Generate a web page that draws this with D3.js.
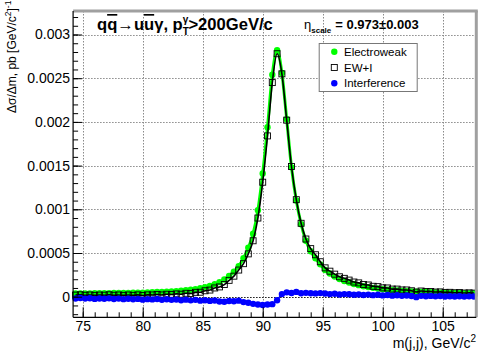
<!DOCTYPE html>
<html>
  <head>
    <meta charset="UTF-8">
    <title>qq -> uu gamma, Z peak</title>
    <style>
      body { margin: 0; background: #fff; }
      svg { display: block; font-family: "Liberation Sans", Arial, Helvetica, sans-serif; }
    </style>
  </head>
  <body>

    <svg></svg>

    <script src="https://d3js.org/d3.v7.min.js"></script>
    <script>

/* DATA */

// bin centres, m(j,j) in GeV/c^2
var mass = [74.4, 74.8, 75.2, 75.6, 76.0, 76.4, 76.8, 77.2, 77.6, 78.0,
            78.4, 78.8, 79.2, 79.6, 80.0, 80.4, 80.8, 81.2, 81.6, 82.0,
            82.4, 82.8, 83.2, 83.6, 84.0, 84.4, 84.8, 85.2, 85.6, 86.0,
            86.4, 86.8, 87.2, 87.6, 88.0, 88.4, 88.8, 89.2, 89.6, 90.0,
            90.4, 90.8, 91.2, 91.6, 92.0, 92.4, 92.8, 93.2, 93.6, 94.0,
            94.4, 94.8, 95.2, 95.6, 96.0, 96.4, 96.8, 97.2, 97.6, 98.0,
            98.4, 98.8, 99.2, 99.6, 100.0, 100.4, 100.8, 101.2, 101.6, 102.0,
            102.4, 102.8, 103.2, 103.6, 104.0, 104.4, 104.8, 105.2, 105.6, 106.0,
            106.4, 106.8, 107.2, 107.6];

// Electroweak (green dots)
var electroweak = [0.000036, 0.000037, 0.000037, 0.000038, 0.000039, 0.000039, 0.000040, 0.000041, 0.000042, 0.000042,
                   0.000043, 0.000044, 0.000045, 0.000046, 0.000047, 0.000049, 0.000051, 0.000053, 0.000055, 0.000058,
                   0.000061, 0.000064, 0.000068, 0.000073, 0.000079, 0.000086, 0.000096, 0.000108, 0.000124, 0.000143,
                   0.000167, 0.000197, 0.000237, 0.000287, 0.000350, 0.000440, 0.000560, 0.000720, 0.000990, 0.001410,
                   0.001940, 0.002540, 0.002820, 0.002560, 0.002030, 0.001480, 0.001100, 0.000830, 0.000640, 0.000520,
                   0.000440, 0.000370, 0.000305, 0.000265, 0.000230, 0.000203, 0.000180, 0.000162, 0.000146, 0.000132,
                   0.000120, 0.000110, 0.000101, 0.000093, 0.000086, 0.000080, 0.000075, 0.000071, 0.000067, 0.000063,
                   0.000060, 0.000058, 0.000055, 0.000053, 0.000051, 0.000049, 0.000047, 0.000046, 0.000044, 0.000043,
                   0.000042, 0.000041, 0.000040, 0.000039];

// EW+I (open squares, black curve)
var ewPlusI = [0.000018, 0.000022, 0.000016, 0.000020, 0.000015, 0.000019, 0.000017, 0.000022, 0.000016, 0.000020,
               0.000015, 0.000020, 0.000015, 0.000021, 0.000013, 0.000021, 0.000020, 0.000026, 0.000020, 0.000028,
               0.000025, 0.000032, 0.000028, 0.000039, 0.000037, 0.000050, 0.000051, 0.000068, 0.000076, 0.000100,
               0.000112, 0.000139, 0.000187, 0.000235, 0.000305, 0.000378, 0.000490, 0.000640, 0.000900, 0.001310,
               0.001840, 0.002450, 0.002780, 0.002550, 0.002020, 0.001490, 0.001110, 0.000840, 0.000660, 0.000550,
               0.000480, 0.000400, 0.000330, 0.000292, 0.000258, 0.000228, 0.000210, 0.000190, 0.000168, 0.000158,
               0.000140, 0.000134, 0.000119, 0.000115, 0.000101, 0.000100, 0.000087, 0.000087, 0.000077, 0.000077,
               0.000068, 0.000053, 0.000065, 0.000059, 0.000060, 0.000053, 0.000055, 0.000049, 0.000050, 0.000045,
               0.000047, 0.000042, 0.000044, 0.000041];

// Interference (blue dots)
var interference = [-0.000020, -0.000015, -0.000022, -0.000018, -0.000025, -0.000020, -0.000023, -0.000019, -0.000026, -0.000022,
                    -0.000028, -0.000024, -0.000030, -0.000025, -0.000034, -0.000028, -0.000031, -0.000027, -0.000035, -0.000030,
                    -0.000036, -0.000032, -0.000040, -0.000034, -0.000042, -0.000036, -0.000045, -0.000040, -0.000048, -0.000043,
                    -0.000055, -0.000058, -0.000050, -0.000052, -0.000045, -0.000062, -0.000070, -0.000082, -0.000090, -0.000095,
                    -0.000090, -0.000085, -0.000040, 0.000030, 0.000050, 0.000042, 0.000055, 0.000040, 0.000044, 0.000040,
                    0.000038, 0.000041, 0.000036, 0.000030, 0.000033, 0.000025, 0.000030, 0.000028, 0.000022, 0.000026,
                    0.000020, 0.000024, 0.000018, 0.000022, 0.000015, 0.000020, 0.000012, 0.000016, 0.000010, 0.000014,
                    0.000008, -0.000005, 0.000010, 0.000006, 0.000009, 0.000004, 0.000008, 0.000003, 0.000006, 0.000002,
                    0.000005, 0.000001, 0.000004, 0.000002];

var xTicks = [75, 80, 85, 90, 95, 100, 105];
var yTicks = [0, 0.0005, 0.001, 0.0015, 0.002, 0.0025, 0.003];
var yTickLabels = ["0", "0.0005", "0.001", "0.0015", "0.002", "0.0025", "0.003"];

var legendNames = ["Electroweak", "EW+I", "Interference"];

var config = {
  "width": 491,
  "height": 353,
  "frame": { "left": 73.1, "right": 476.3, "top": 11, "bottom": 317.3 },
  "xDomain": [74.2, 107.8],
  "yDomain": [-0.0002357, 0.003269],
  "green": "#00ff00",
  "blue": "#0000ff"
};

/* SETUP */
var svg = d3.select("svg")
  .attr("width", config.width)
  .attr("height", config.height);

var f = config.frame;

var x = d3.scaleLinear().domain(config.xDomain).range([f.left, f.right]);
var y = d3.scaleLinear().domain(config.yDomain).range([f.bottom, f.top]);

svg.append("rect")
  .attr("width", config.width).attr("height", config.height)
  .attr("fill", "#fff");

// grid (dotted)
var grid = svg.append("g").attr("stroke", "#8a8a8a").attr("stroke-width", 1)
  .attr("stroke-dasharray", "1.5,1.5");

grid.selectAll(".vgrid").data(xTicks).enter().append("line")
  .attr("x1", function(d) { return Math.round(x(d)) + 0.5; })
  .attr("x2", function(d) { return Math.round(x(d)) + 0.5; })
  .attr("y1", f.top).attr("y2", f.bottom);

grid.selectAll(".hgrid").data(yTicks.filter(function(d) { return d !== 0; })).enter().append("line")
  .attr("y1", function(d) { return Math.round(y(d)) + 0.5; })
  .attr("y2", function(d) { return Math.round(y(d)) + 0.5; })
  .attr("x1", f.left).attr("x2", f.right);

// zero line is darker
svg.append("line")
  .attr("x1", f.left).attr("x2", f.right)
  .attr("y1", Math.round(y(0)) + 0.5).attr("y2", Math.round(y(0)) + 0.5)
  .attr("stroke", "#111").attr("stroke-width", 1)
  .attr("stroke-dasharray", "1.5,1.5");

/* SERIES */
var lineOf = function(values) {
  return d3.line()
    .x(function(d, i) { return x(mass[i]); })
    .y(function(d) { return y(d); })
    .curve(d3.curveMonotoneX)(values);
};

// Electroweak: thick green curve + dots
svg.append("path")
  .attr("d", lineOf(electroweak))
  .attr("fill", "none")
  .attr("stroke", config.green)
  .attr("stroke-width", 3);

svg.append("g").selectAll("circle")
  .data(electroweak).enter().append("circle")
  .attr("cx", function(d, i) { return x(mass[i]); })
  .attr("cy", function(d) { return y(d); })
  .attr("r", 3.2)
  .attr("fill", config.green);

// EW+I: open squares + black curve
svg.append("g").selectAll("rect")
  .data(ewPlusI).enter().append("rect")
  .attr("x", function(d, i) { return x(mass[i]) - 3; })
  .attr("y", function(d) { return y(d) - 3; })
  .attr("width", 6).attr("height", 6)
  .attr("fill", "none")
  .attr("stroke", "#000")
  .attr("stroke-width", 0.9);

svg.append("path")
  .attr("d", lineOf(ewPlusI))
  .attr("fill", "none")
  .attr("stroke", "#000")
  .attr("stroke-width", 1.6);

// Interference: blue dots joined by a line
svg.append("path")
  .attr("d", lineOf(interference))
  .attr("fill", "none")
  .attr("stroke", config.blue)
  .attr("stroke-width", 1.5);

svg.append("g").selectAll("circle")
  .data(interference).enter().append("circle")
  .attr("cx", function(d, i) { return x(mass[i]); })
  .attr("cy", function(d) { return y(d); })
  .attr("r", 3.2)
  .attr("fill", config.blue);

/* FRAME + AXES */
// gray frame border on top and right
svg.append("line")
  .attr("x1", f.left).attr("x2", f.right + 1.5)
  .attr("y1", f.top).attr("y2", f.top)
  .attr("stroke", "#a0a0a0").attr("stroke-width", 3);
svg.append("line")
  .attr("x1", f.right).attr("x2", f.right)
  .attr("y1", f.top).attr("y2", f.bottom)
  .attr("stroke", "#a0a0a0").attr("stroke-width", 3);

// y axis (ticks point inwards)
var yMinor = d3.range(-2, 33).map(function(k) { return k * 0.0001; });

svg.append("g")
  .attr("transform", "translate(" + f.left + ",0)")
  .call(d3.axisLeft(y).tickValues(yMinor).tickSize(-5).tickFormat(""))
  .call(function(g) { g.select(".domain").remove(); });

svg.append("g")
  .attr("class", "yaxis")
  .attr("transform", "translate(" + f.left + ",0)")
  .call(d3.axisLeft(y).tickValues(yTicks).tickSize(-9).tickPadding(3)
    .tickFormat(function(d, i) { return yTickLabels[i]; }))
  .call(function(g) {
    g.select(".domain").remove();
    g.selectAll("text").attr("font-size", 14).attr("fill", "#000")
      .attr("font-family", "Liberation Sans, Arial, sans-serif");
  });

// x axis (ticks point inwards)
var xMinor = d3.range(75, 108, 1);

svg.append("g")
  .attr("transform", "translate(0," + f.bottom + ")")
  .call(d3.axisBottom(x).tickValues(xMinor).tickSize(-5).tickFormat(""))
  .call(function(g) { g.select(".domain").remove(); });

svg.append("g")
  .attr("class", "xaxis")
  .attr("transform", "translate(0," + f.bottom + ")")
  .call(d3.axisBottom(x).tickValues(xTicks).tickSize(-10).tickPadding(4)
    .tickFormat(function(d) { return d; }))
  .call(function(g) {
    g.select(".domain").remove();
    g.selectAll("text").attr("font-size", 14).attr("fill", "#000")
      .attr("font-family", "Liberation Sans, Arial, sans-serif");
  });

svg.append("line")
  .attr("x1", f.left).attr("x2", f.left)
  .attr("y1", f.top).attr("y2", f.bottom)
  .attr("stroke", "#000").attr("stroke-width", 1.2);
svg.append("line")
  .attr("x1", f.left).attr("x2", f.right)
  .attr("y1", f.bottom).attr("y2", f.bottom)
  .attr("stroke", "#000").attr("stroke-width", 1.2);

/* TEXT */
// x axis title
var xt = svg.append("text")
  .attr("x", 476).attr("y", 348)
  .attr("text-anchor", "end")
  .attr("font-size", 14);
xt.append("tspan").text("m(j,j), GeV/c");
xt.append("tspan").attr("font-size", 10).attr("dy", -6).text("2");

// y axis title
var yt = svg.append("text")
  .attr("transform", "translate(15.5,113) rotate(-90)")
  .attr("text-anchor", "start")
  .attr("font-size", 12);
yt.append("tspan").text("Δσ/Δm, pb [GeV/c");
yt.append("tspan").attr("font-size", 8.5).attr("dy", -5).text("2");
yt.append("tspan").attr("dy", 5).text("]");
yt.append("tspan").attr("font-size", 8.5).attr("dy", -5).text("-1");

// main title
var title = svg.append("text")
  .attr("x", 97).attr("y", 30)
  .attr("font-size", 16.6)
  .attr("font-weight", "bold");
title.append("tspan").text("q");
title.append("tspan").attr("text-decoration", "overline").text("q");
title.append("tspan").text("→u");
title.append("tspan").attr("text-decoration", "overline").text("u");
title.append("tspan").text("γ, p");
title.append("tspan").attr("font-size", 10).attr("dy", 5).text("T");
title.append("tspan").attr("font-size", 10).attr("dx", -6).attr("dy", -12).text("γ");
title.append("tspan").attr("dy", 7).text(">200GeV/c");

// scale factor
var eta = svg.append("text")
  .attr("x", 304).attr("y", 29)
  .attr("font-size", 13);
eta.append("tspan").text("η");
eta.append("tspan").attr("font-size", 8).attr("font-weight", "bold").attr("dy", 4).text("scale");
eta.append("tspan").attr("font-weight", "bold").attr("dy", -4).attr("dx", 4).text("= 0.973±0.003");

/* LEGEND */
var legend = svg.append("g").attr("transform", "translate(318.7,43)");

legend.append("rect")
  .attr("x", 0.5).attr("y", 0.5)
  .attr("width", 98).attr("height", 48)
  .attr("fill", "#fff")
  .attr("stroke", "#777").attr("stroke-width", 1);

var rows = legend.selectAll(".row")
  .data(legendNames).enter().append("g")
  .attr("transform", function(d, i) { return "translate(0," + (8.7 + i * 15.8) + ")"; });

rows.each(function(d, i) {
  var r = d3.select(this);
  if (i === 1) {
    r.append("rect").attr("x", 12.6).attr("y", -3).attr("width", 6).attr("height", 6)
      .attr("fill", "none").attr("stroke", "#000").attr("stroke-width", 0.9);
  } else {
    r.append("circle").attr("cx", 15.6).attr("cy", 0).attr("r", 3.2)
      .attr("fill", i === 0 ? config.green : config.blue);
  }
  r.append("text")
    .attr("x", 25.3).attr("y", 4)
    .attr("font-size", 11.5)
    .text(d);
});

    </script>
  </body>
</html>
